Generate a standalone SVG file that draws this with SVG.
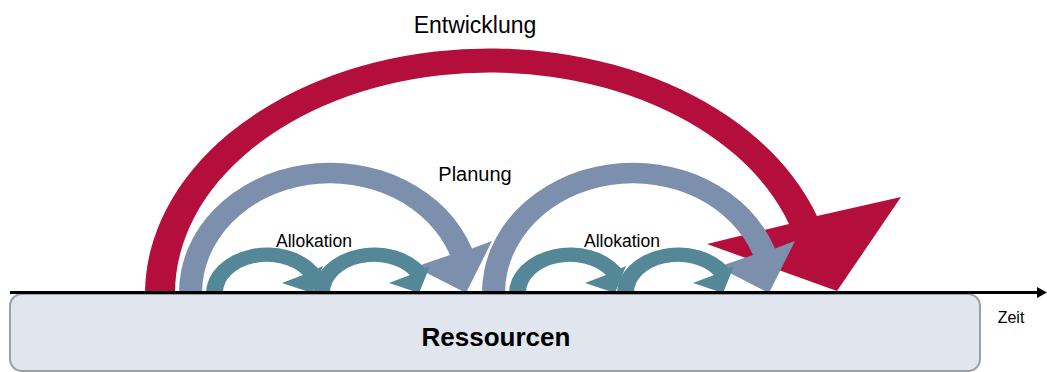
<svg xmlns="http://www.w3.org/2000/svg" width="1047" height="372" viewBox="0 0 1047 372">
<style>
.t{font-family:"Liberation Sans",Arial,sans-serif;fill:#000;text-anchor:middle}
.red{fill:#B40E3C}
.blue{fill:#7C8FAD}
.teal{fill:#548899}
</style>
<rect width="1047" height="372" fill="#fff"/>
<g id="ressourcen">
<rect x="10" y="294" width="970" height="77" rx="12" fill="#E1E5EE" stroke="#9B9FA6" stroke-width="2"/>
<text class="t" x="496" y="346" font-size="26" font-weight="bold">Ressourcen</text>
</g>
<g id="entwicklung">
<path class="red" d="M145,293 A345,246 0 0 1 817,216 L901,197 L837,291 L707,244 L789,224 A315,221 0 0 0 175,293 Z"/>
<text class="t" x="475" y="33" font-size="23">Entwicklung</text>
</g>
<g id="planung">
<path class="blue" d="M179,293 A151,130 0 0 1 472,248.5 L492,241 L466,293 L415,267 L450,255 A128,110 0 0 0 202,293 Z"/>
<path class="blue" d="M482,293 A151,130 0 0 1 775,248.5 L795,241 L769,293 L718,267 L753,255 A128,110 0 0 0 505,293 Z"/>
<text class="t" x="475" y="181" font-size="20">Planung</text>
</g>
<g id="allokation">
<path class="teal" d="M206,293 A61,46 0 0 1 318,268.3 L323,266 L312,293 L282,283 L303,275 A44,31 0 0 0 223,293 Z"/>
<path class="teal" d="M313,293 A61,46 0 0 1 425,268.3 L430,266 L419,293 L389,283 L410,275 A44,31 0 0 0 330,293 Z"/>
<path class="teal" d="M509,293 A61,46 0 0 1 621,268.3 L626,266 L615,293 L585,283 L606,275 A44,31 0 0 0 526,293 Z"/>
<path class="teal" d="M617,293 A61,46 0 0 1 729,268.3 L734,266 L723,293 L693,283 L714,275 A44,31 0 0 0 634,293 Z"/>
<text class="t" x="314" y="247" font-size="17.5">Allokation</text>
<text class="t" x="622" y="247" font-size="17.5">Allokation</text>
</g>
<g id="connectors">
<line x1="10" y1="292.5" x2="1040" y2="292.5" stroke="#000" stroke-width="3"/>
<polygon points="1037,287 1047,292.5 1037,298" fill="#000"/>
</g>
<g id="zeit">
<text class="t" x="1011" y="323" font-size="16">Zeit</text>
</g>
</svg>
